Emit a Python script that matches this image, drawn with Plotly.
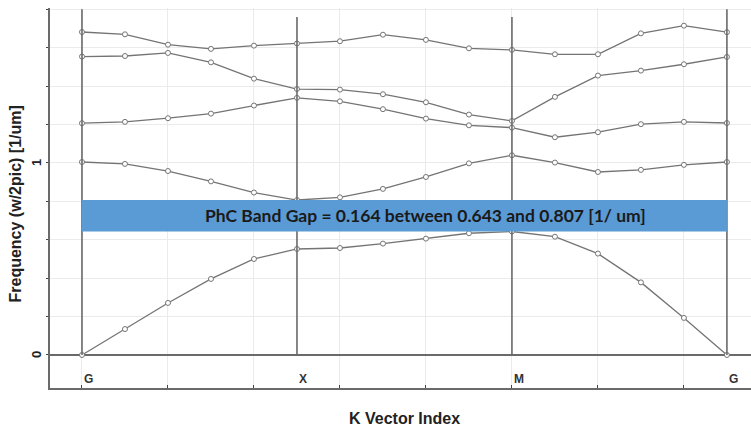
import plotly.graph_objects as go

k_index = list(range(16))
band1 = [0.0, 0.135, 0.271, 0.396, 0.500, 0.552, 0.557, 0.580, 0.606, 0.634, 0.643, 0.616, 0.528, 0.378, 0.193, 0.0]
band2 = [1.005, 0.995, 0.958, 0.904, 0.846, 0.807, 0.821, 0.865, 0.927, 0.998, 1.040, 1.002, 0.953, 0.964, 0.990, 1.005]
band3 = [1.207, 1.214, 1.233, 1.257, 1.299, 1.339, 1.321, 1.280, 1.231, 1.196, 1.184, 1.134, 1.160, 1.202, 1.214, 1.208]
band4 = [1.554, 1.557, 1.573, 1.524, 1.439, 1.385, 1.382, 1.358, 1.316, 1.252, 1.219, 1.344, 1.455, 1.481, 1.514, 1.552]
band5 = [1.682, 1.670, 1.616, 1.594, 1.611, 1.622, 1.634, 1.668, 1.641, 1.597, 1.589, 1.566, 1.566, 1.675, 1.715, 1.681]
bands = [band1, band2, band3, band4, band5]

sym_pos = [0, 5, 10, 15]
sym_labels = ["G", "X", "M", "G"]
sym_line_top = [1.80, 1.76, 1.76, 1.80]

gap_low = 0.643
gap_high = 0.807
gap_text = "PhC Band Gap = 0.164 between 0.643 and 0.807 [1/ um]"

ytick_vals = [0, 1]
ytick_text = ["0", "1"]

fig = go.Figure()
for b in bands:
    fig.add_trace(go.Scatter(
        x=k_index, y=b, mode="lines+markers",
        line=dict(color="#747474", width=1.3),
        marker=dict(symbol="circle", size=5, color="white",
                    line=dict(color="#747474", width=1)),
        showlegend=False, hoverinfo="skip"))

shapes = []
for p, top in zip(sym_pos, sym_line_top):
    shapes.append(dict(type="line", xref="x", yref="y", x0=p, x1=p, y0=0, y1=top,
                       line=dict(color="#6a6a6a", width=1.6), layer="above"))
shapes.append(dict(type="rect", xref="x", yref="y", x0=sym_pos[0], x1=sym_pos[-1],
                   y0=gap_low, y1=gap_high, fillcolor="#5B9BD5",
                   line=dict(width=0), layer="above"))

plot_w = 751 - 50
plot_h = 429 - 8 - 41

annotations = []
annotations.append(dict(x=8.0, y=(gap_low + gap_high) / 2, xref="x", yref="y",
                        text="<b>" + gap_text + "</b>", showarrow=False,
                        font=dict(family="Lato", size=17.5, color="#1a1a1a")))
for p, lab in zip(sym_pos, sym_labels):
    annotations.append(dict(x=p, y=-0.125, xref="x", yref="y", text="<b>" + lab + "</b>",
                            showarrow=False, xanchor="left", yanchor="middle",
                            font=dict(family="Liberation Sans", size=12, color="#333")))
for v, t in zip(ytick_vals, ytick_text):
    annotations.append(dict(x=(37 - 50) / plot_w, y=v, xref="paper", yref="y",
                            text="<b>" + t + "</b>",
                            showarrow=False, textangle=-90, xanchor="center", yanchor="middle",
                            font=dict(family="Liberation Sans", size=13, color="#222")))
annotations.append(dict(x=(15 - 50) / plot_w, y=0.5 + (198.5 - 205) / plot_h,
                        xref="paper", yref="paper",
                        text="<b>Frequency (w/2pic) [1/um]</b>", textangle=-90, showarrow=False,
                        xanchor="center", yanchor="middle",
                        font=dict(family="Liberation Sans", size=16, color="#222")))
annotations.append(dict(x=(404 - 50) / plot_w, y=-(419 - 388) / plot_h,
                        xref="paper", yref="paper",
                        text="<b>K Vector Index</b>", showarrow=False,
                        xanchor="center", yanchor="middle",
                        font=dict(family="Liberation Sans", size=16, color="#222")))

fig.update_layout(
    width=751, height=429,
    margin=dict(l=50, r=0, t=8, b=41),
    paper_bgcolor="white", plot_bgcolor="white",
    shapes=shapes,
    annotations=annotations,
    xaxis=dict(range=[-0.744, 15.56], tick0=0, dtick=2, showgrid=True, gridcolor="#ebebeb",
               gridwidth=1, showticklabels=False, zeroline=False,
               showline=True, linecolor="#6a6a6a", linewidth=2,
               ticks="inside", ticklen=3, tickcolor="#444"),
    yaxis=dict(range=[-0.172, 1.807], tick0=0, dtick=0.2, showgrid=True, gridcolor="#ebebeb",
               gridwidth=1, showticklabels=False, zeroline=True, zerolinecolor="#6a6a6a",
               zerolinewidth=1.5, showline=True, linecolor="#6a6a6a", linewidth=1.5,
               ticks="outside", ticklen=2, tickcolor="#444"),
)

fig.write_html("out.html")
